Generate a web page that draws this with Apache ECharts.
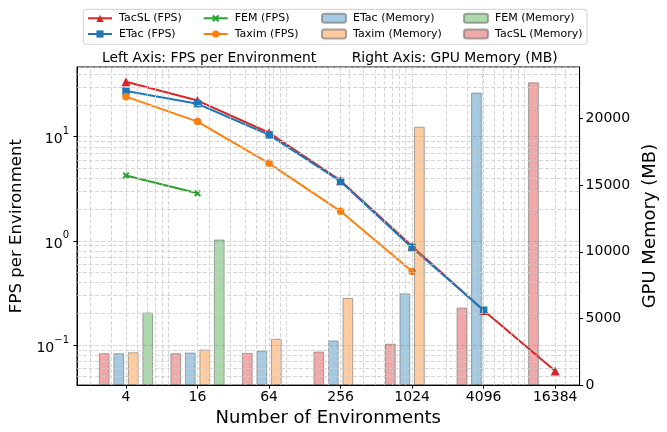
<!DOCTYPE html>
<html>
<head>
<meta charset="utf-8">
<script src="https://cdn.jsdelivr.net/npm/echarts@6/dist/echarts.min.js"></script>
<style>html,body{margin:0;padding:0;background:#fff}#c{width:667px;height:432px}</style>
</head>
<body>
<div id="c"></div>
<script>
// ---- data ----
var envs = [4, 16, 64, 256, 1024, 4096, 16384];
var tacslFps = [33.6, 22.2, 10.9, 3.78, 0.89, 0.215, 0.0564];
var etacFps = [27.4, 20.7, 10.4, 3.72, 0.86, 0.216];
var femFps = [4.24, 2.86];
var taximFps = [24.2, 13.95, 5.55, 1.92, 0.509];
var tacslMem = [2390, 2390, 2410, 2515, 3106, 5814, 22707];
var etacMem = [2390, 2440, 2589, 3350, 6879, 21938];
var taximMem = [2463, 2663, 3476, 6531, 19379];
var femMem = [5444, 10917];
var xMinorGrid = [2,3,5,6,7,8,9,20,30,40,50,60,70,80,90,200,300,400,500,600,700,800,900,2000,3000,4000,5000,6000,7000,8000,9000,20000];
var yMinorGrid = [0.05,0.06,0.07,0.08,0.09,0.2,0.3,0.4,0.5,0.6,0.7,0.8,0.9,2,3,4,5,6,7,8,9,20,30,40];

var FONT = 'DejaVu Sans';
function pairs(vals) { return vals.map(function (v, i) { return [envs[i], v]; }); }

var red = '#d62728', blue = '#1f77b4', green = '#2ca02c', orange = '#ff7f0e';
var gridLine = { color: '#cccccc', width: 0.8, type: [4, 2] };
var crossPath = 'path://M2,0 L5,3 L8,0 L10,2 L7,5 L10,8 L8,10 L5,7 L2,10 L0,8 L3,5 L0,2 Z';

function lineSeries(name, vals, color, symbol, size) {
  return { name: name, type: 'line', data: pairs(vals), yAxisIndex: 0, z: 2,
    symbol: symbol, symbolSize: size, showSymbol: true,
    lineStyle: { color: color, width: 2 }, itemStyle: { color: color },
    animation: false };
}
function barSeries(name, vals, fill) {
  return { name: name, type: 'bar', data: pairs(vals), yAxisIndex: 1, z: 3,
    barWidth: 10.7, barGap: '35.5%',
    itemStyle: { color: fill, borderColor: 'rgba(110,110,110,0.6)', borderWidth: 1 },
    animation: false };
}

var legendBase = { orient: 'vertical', top: 12.8, itemWidth: 24, itemHeight: 9, itemGap: 4.7, padding: 0,
  textStyle: { fontSize: 11, lineHeight: 11, fontFamily: FONT, color: '#000', padding: [0, 0, 0, 2] } };
function legend(left, names) { return Object.assign({}, legendBase, { left: left, data: names }); }

var chart = echarts.init(document.getElementById('c'), null, { renderer: 'canvas' });
chart.setOption({
  backgroundColor: '#fff',
  textStyle: { fontFamily: FONT },
  title: [
    { text: 'Left Axis: FPS per Environment', left: 102, top: 51.5, padding: 0,
      textStyle: { fontSize: 13.9, fontWeight: 'normal', color: '#000', fontFamily: FONT } },
    { text: 'Right Axis: GPU Memory (MB)', left: 351.7, top: 51.5, padding: 0,
      textStyle: { fontSize: 13.9, fontWeight: 'normal', color: '#000', fontFamily: FONT } }
  ],
  graphic: [{ type: 'rect', z: 0, shape: { x: 83.3, y: 9.3, width: 503.7, height: 35, r: 3 },
    style: { fill: 'rgba(255,255,255,0.8)', stroke: '#d0d0d0', lineWidth: 1 } }],
  legend: [
    legend(87, ['TacSL (FPS)', 'ETac (FPS)']),
    legend(202.7, ['FEM (FPS)', 'Taxim (FPS)']),
    legend(321, ['ETac (Memory)', 'Taxim (Memory)']),
    legend(463, ['FEM (Memory)', 'TacSL (Memory)'])
  ],
  grid: { left: 77, right: 84.5, top: 67, bottom: 42.7, show: true, borderColor: '#000', borderWidth: 1, backgroundColor: 'transparent' },
  xAxis: {
    type: 'log', logBase: 4, min: 1.548, max: 26270,
    name: 'Number of Environments', nameLocation: 'middle', nameGap: 22,
    nameTextStyle: { fontSize: 18, color: '#000', fontFamily: FONT },
    axisLine: { lineStyle: { color: '#000', width: 1 } },
    axisTick: { show: true, inside: false, length: 3.5, lineStyle: { color: '#000' } },
    axisLabel: { fontSize: 14, color: '#000', margin: 5, showMinLabel: false, showMaxLabel: false,
      formatter: function (v) { return String(Math.round(v)); } },
    splitLine: { show: true, lineStyle: gridLine }
  },
  yAxis: [
    { type: 'log', logBase: 10, min: 0.0413, max: 46.6, position: 'left',
      name: 'FPS per Environment', nameLocation: 'middle', nameGap: 47,
      nameTextStyle: { fontSize: 16.6, color: '#000', fontFamily: FONT },
      axisLine: { show: true, lineStyle: { color: '#000', width: 1 } },
      axisTick: { show: true, length: 3.5, lineStyle: { color: '#000' } },
      axisLabel: { color: '#000', margin: 8, showMinLabel: false, showMaxLabel: false,
        formatter: function (v) {
          var e = Math.round(Math.log10(v));
          return '{b|10}{s|' + (e < 0 ? '\u2212' + (-e) : e) + '}';
        },
        rich: { b: { fontSize: 14, lineHeight: 20, verticalAlign: 'bottom', color: '#000', fontFamily: FONT },
                s: { fontSize: 10, lineHeight: 20, verticalAlign: 'top', color: '#000', fontFamily: FONT } } },
      splitLine: { show: true, lineStyle: gridLine } },
    { type: 'value', min: 0, max: 23860, interval: 5000, position: 'right',
      name: 'GPU Memory (MB)', nameLocation: 'middle', nameGap: 53.7,
      nameTextStyle: { fontSize: 18, color: '#000', fontFamily: FONT },
      axisLine: { show: true, lineStyle: { color: '#000', width: 1 } },
      axisTick: { show: true, length: 3.5, lineStyle: { color: '#000' } },
      axisLabel: { fontSize: 14, color: '#000', margin: 6, showMaxLabel: false,
        formatter: function (v) { return String(v); } },
      splitLine: { show: false } }
  ],
  series: [
    { name: 'minorGrid', type: 'line', data: [], yAxisIndex: 0, z: 1, silent: true, animation: false,
      markLine: { silent: true, symbol: 'none', animation: false, label: { show: false },
        lineStyle: gridLine,
        data: xMinorGrid.map(function (v) { return { xAxis: v }; })
          .concat(yMinorGrid.map(function (v) { return { yAxis: v }; })) } },
    lineSeries('TacSL (FPS)', tacslFps, red, 'triangle', 9),
    lineSeries('ETac (FPS)', etacFps, blue, 'rect', 7.5),
    lineSeries('FEM (FPS)', femFps, green, crossPath, 7),
    lineSeries('Taxim (FPS)', taximFps, orange, 'circle', 7.5),
    barSeries('TacSL (Memory)', tacslMem, 'rgba(214,39,40,0.4)'),
    barSeries('ETac (Memory)', etacMem, 'rgba(31,119,180,0.4)'),
    barSeries('Taxim (Memory)', taximMem, 'rgba(255,127,14,0.4)'),
    barSeries('FEM (Memory)', femMem, 'rgba(44,160,44,0.4)')
  ]
});
</script>
</body>
</html>
